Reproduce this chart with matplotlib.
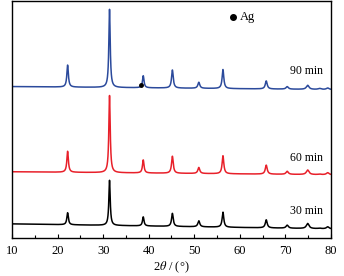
import numpy as np
import matplotlib.pyplot as plt

plt.rcParams['font.family'] = ['Liberation Serif', 'DejaVu Serif']
plt.rcParams['mathtext.fontset'] = 'stix'

# peak positions (2theta) and heights above baseline for each sample
peaks = np.array([22.2, 31.4, 38.8, 45.2, 51.0, 56.3, 65.8, 70.4, 74.9, 77.5, 79.3])
h_30 = np.array([12, 45, 9, 13, 6, 15, 8, 3, 5, 0.5, 2])
h_60 = np.array([21, 77, 13, 17, 6, 18, 9, 3, 4.5, 0.5, 2])
h_90 = np.array([22, 78, 12, 18, 6, 19, 8, 2.5, 4, 1, 1.5])
widths = np.array([0.2, 0.18, 0.2, 0.22, 0.25, 0.22, 0.25, 0.3, 0.35, 0.35, 0.35])

# baseline level at 10 and 80 degrees
base_30 = (14, 9)
base_60 = (66, 63)
base_90 = (151, 148)

labels = ['30 min', '60 min', '90 min']
label_y = [27, 80, 167]
colors = ['#000000', '#e8202a', '#2b4a9c']

ag_x, ag_y = 38.2, 153

x = np.linspace(10, 80, 3000)


def pattern(h, base):
    y = base[0] + (base[1] - base[0]) * (x - 10) / 70
    for p, hh, w in zip(peaks, h, widths):
        y = y + hh / (1 + ((x - p) / w) ** 2)
    return y


fig = plt.figure(figsize=(3.44, 2.76), dpi=100)
ax = fig.add_axes([0.035, 0.138, 0.927, 0.857])
for h, base, c in zip([h_30, h_60, h_90], [base_30, base_60, base_90], colors):
    ax.plot(x, pattern(h, base), color=c, lw=1.1)
for lab, ly in zip(labels, label_y):
    ax.text(78.3, ly, lab, ha='right', va='center', fontsize=8.5)

ax.plot(ag_x, ag_y, 'ko', ms=2.5)
ax.plot(58.6, 220, 'ko', ms=4)
ax.text(60.0, 220, 'Ag', va='center', fontsize=9)

ax.set_xlim(10, 80)
ax.set_ylim(0, 236)
ax.set_yticks([])
ax.set_xticks(np.arange(10, 81, 10))
ax.set_xticks(np.arange(15, 80, 10), minor=True)
ax.tick_params(axis='x', direction='in', length=3, width=0.8, labelsize=9, pad=5)
ax.tick_params(axis='x', which='minor', direction='in', length=2, width=0.8)
for s in ax.spines.values():
    s.set_linewidth(1.0)
ax.set_xlabel(r'2$\it{\theta}$ / (°)', fontsize=9, labelpad=2)

fig.savefig('out.png', dpi=100)
